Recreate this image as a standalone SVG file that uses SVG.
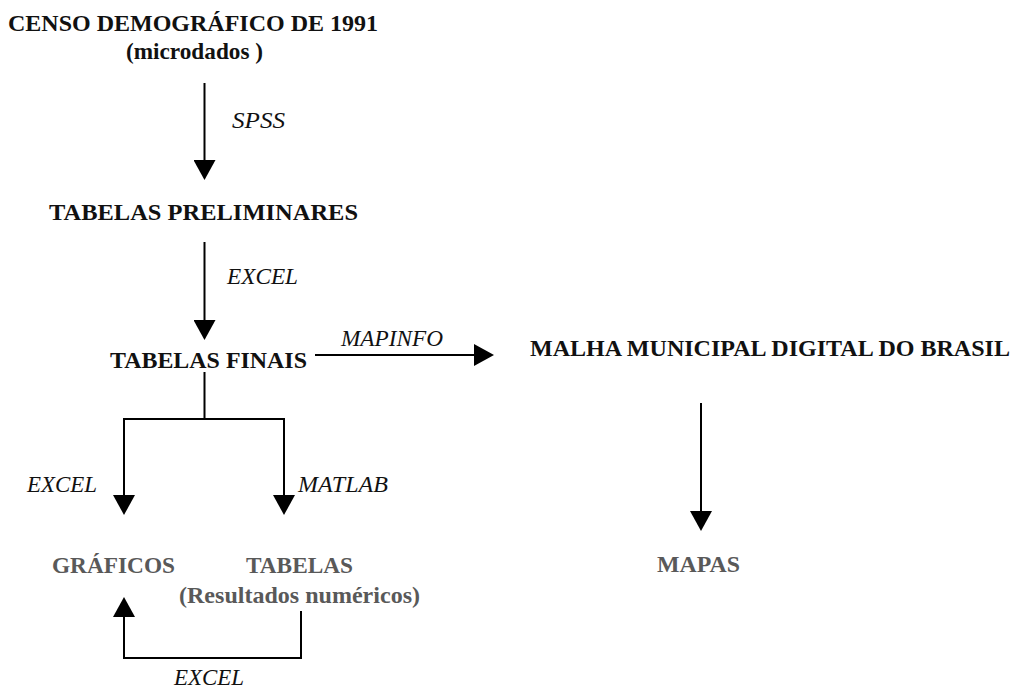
<svg xmlns="http://www.w3.org/2000/svg" width="1016" height="685" viewBox="0 0 1016 685">
<style>
  .b{font-family:"Liberation Serif","Times New Roman",serif;font-weight:bold;font-size:24px;fill:#111}
  .g{font-family:"Liberation Serif","Times New Roman",serif;font-weight:bold;font-size:24px;fill:#595959}
  .i{font-family:"Liberation Serif","Times New Roman",serif;font-style:italic;font-size:23.5px;fill:#111}
  .c{fill:none;stroke:#000;stroke-width:2}
</style>
<defs>
  <marker id="ah" viewBox="0 0 20 22" refX="0" refY="11" markerWidth="20" markerHeight="22" markerUnits="userSpaceOnUse" orient="auto">
    <path d="M0,0 L20,11 L0,22 Z" fill="#000"/>
  </marker>
</defs>
<rect width="1016" height="685" fill="#fff"/>
<g id="censo">
  <text class="b" x="8" y="31" textLength="370" lengthAdjust="spacingAndGlyphs">CENSO DEMOGRÁFICO DE  1991</text>
  <text class="b" x="126" y="59" textLength="137" lengthAdjust="spacingAndGlyphs">(microdados )</text>
</g>
<g id="preliminares">
  <text class="b" x="49" y="220" textLength="309" lengthAdjust="spacingAndGlyphs">TABELAS  PRELIMINARES</text>
</g>
<g id="finais">
  <text class="b" x="110" y="368" textLength="197" lengthAdjust="spacingAndGlyphs">TABELAS FINAIS</text>
</g>
<g id="malha">
  <text class="b" x="530" y="356" textLength="480" lengthAdjust="spacingAndGlyphs">MALHA MUNICIPAL DIGITAL DO BRASIL</text>
</g>
<g id="graficos">
  <text class="g" x="52" y="573" textLength="123" lengthAdjust="spacingAndGlyphs">GRÁFICOS</text>
</g>
<g id="tabelas">
  <text class="g" x="246" y="573" textLength="107" lengthAdjust="spacingAndGlyphs">TABELAS</text>
  <text class="g" x="179" y="603" textLength="241" lengthAdjust="spacingAndGlyphs">(Resultados numéricos)</text>
</g>
<g id="mapas">
  <text class="g" x="657" y="572" textLength="83" lengthAdjust="spacingAndGlyphs">MAPAS</text>
</g>
<g id="connectors">
  <path class="c" d="M204.5,83 V160" marker-end="url(#ah)"/>
  <path class="c" d="M204.5,242 V320" marker-end="url(#ah)"/>
  <path class="c" d="M315,355 H474" marker-end="url(#ah)"/>
  <path class="c" d="M204.5,372 V419 M124,419 H285"/>
  <path class="c" d="M124,418 V495" marker-end="url(#ah)"/>
  <path class="c" d="M284,418 V495" marker-end="url(#ah)"/>
  <path class="c" d="M301,611 V658 H124 V617" marker-end="url(#ah)"/>
  <path class="c" d="M701,403 V511" marker-end="url(#ah)"/>
  <text class="i" x="232" y="128" textLength="53" lengthAdjust="spacingAndGlyphs">SPSS</text>
  <text class="i" x="227" y="284" textLength="71" lengthAdjust="spacingAndGlyphs">EXCEL</text>
  <text class="i" x="341" y="346" textLength="102" lengthAdjust="spacingAndGlyphs">MAPINFO</text>
  <text class="i" x="27" y="492" textLength="70" lengthAdjust="spacingAndGlyphs">EXCEL</text>
  <text class="i" x="298" y="492" textLength="90" lengthAdjust="spacingAndGlyphs">MATLAB</text>
  <text class="i" x="174" y="685" textLength="70" lengthAdjust="spacingAndGlyphs">EXCEL</text>
</g>
</svg>
